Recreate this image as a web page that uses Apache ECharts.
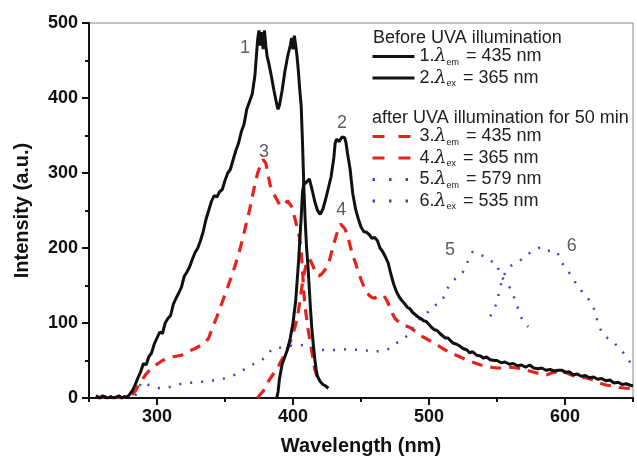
<!DOCTYPE html>
<html><head><meta charset="utf-8">
<script src="https://cdn.jsdelivr.net/npm/echarts@6/dist/echarts.min.js"></script>
<style>html,body{margin:0;padding:0;background:#fff}#c{width:637px;height:461px}</style>
</head><body><div id="c"></div>
<script>
// ---- axis ticks ----
const xTickValues = [300, 400, 500, 600];
const xMinorTickValues = [250, 350, 450, 550, 650];
const yTickValues = [0, 100, 200, 300, 400, 500];

// ---- series names and legend texts ----
const seriesNames = ['1', '2', '3', '4', '5', '6'];
const legendTexts = {
  '1': '1.{l|λ}{s|em}{t| = 435 nm}',
  '2': '2.{l|λ}{s|ex}{t| = 365 nm}',
  '3': '3.{l|λ}{s|em}{t| = 435 nm}',
  '4': '4.{l|λ}{s|ex}{t| = 365 nm}',
  '5': '5.{l|λ}{s|em}{t| = 579 nm}',
  '6': '6.{l|λ}{s|ex}{t| = 535 nm}'
};
const groupTitles = ['Before UVA illumination', 'after UVA illumination for 50 min'];

// ---- curve labels [wavelength, intensity, text] ----
const curveLabels = [[364.7, 467, '1'], [436, 366, '2'], [378.7, 328, '3'], [435.5, 251, '4'], [515.4, 197, '5'], [605, 203, '6']];

// ---- data: [wavelength nm, intensity a.u.] ----
const s1 = [[255,2],[258,0],[260,3],[262,1],[264,0],[266,2],[268,0],[270,1],[272,3],[274,0],[276,2],[278,1],[280,5],[282,10],[284,18],[286,27],[288,35],[290,46],[292,44],[294,55],[296,60],[298,72],[300,80],[302,88],[304,86],[306,100],[308,106],[310,110],[312,125],[314,133],[316,140],[318,148],[320,162],[322,168],[324,175],[326,185],[328,194],[330,200],[332,210],[334,222],[336,238],[338,250],[340,262],[342,270],[344,268],[346,275],[348,278],[350,290],[352,300],[354,305],[356,318],[358,330],[360,340],[362,355],[364,365],[366,385],[368,395],[370,405],[372,430],[374,478],[375,490],[376,470],[377,488],[378,465],[379,490],[380,470],[381,455],[382,448],[384,430],[386,410],[388,392],[389,385],[390,390],[392,410],[394,435],[396,455],[398,470],[399,480],[400,465],[401,483],[402,470],[403,455],[404,435],[405,410],[406,390],[407,340],[408,280],[409,235],[410,200],[411,176],[412,145],[413,115],[414,89],[415,70],[416,52],[417,38],[418,29],[420,22],[422,18],[424,16],[426,13]];
const s2 = [[388,0],[389,8],[390,25],[392,45],[394,55],[396,65],[398,80],[400,100],[402,130],[403,155],[404,180],[405,210],[406,240],[407,275],[408,285],[410,288],[412,292],[413,290],[414,278],[416,262],[418,250],[420,245],[422,252],[424,265],[426,280],[428,295],[430,320],[431,340],[432,345],[433,347],[434,342],[436,348],[438,347],[439,340],[440,327],[442,305],[443,288],[444,272],[446,252],[448,239],[450,228],[452,222],[454,221],[456,218],[458,213],[460,214],[462,210],[464,200],[466,195],[468,188],[470,180],[472,165],[474,152],[476,142],[478,135],[480,130],[482,126],[484,121],[486,119],[488,114],[490,111],[492,108],[494,106],[496,103],[498,102],[500,98],[502,94],[504,91],[506,90],[508,86],[510,83],[512,80],[514,80],[516,76],[518,73],[520,72],[522,70],[525,66],[528,64],[530,60],[532,62],[535,57],[538,56],[540,53],[542,55],[545,51],[548,50],[550,50],[553,47],[556,48],[559,45],[562,46],[565,43],[568,44],[571,41],[574,44],[577,40],[580,39],[583,40],[586,37],[589,38],[592,36],[595,37],[598,37],[600,34],[603,35],[606,31],[609,32],[612,29],[615,30],[618,27],[621,28],[624,25],[627,26],[630,23],[633,24],[636,20],[639,21],[642,18],[645,19],[648,17],[650,16]];
const s3 = [[255,3],[258,0],[262,2],[266,0],[270,1],[274,0],[278,2],[282,5],[284,9],[286,16],[289,24],[292,32],[296,40],[300,45],[304,50],[308,53],[312,55],[318,57],[323,62],[328,66],[332,70],[336,75],[338,80],[341,95],[344,108],[348,128],[352,148],[355,163],[358,180],[360,192],[363,212],[365,228],[368,250],[370,268],[372,285],[374,300],[376,310],[378,318],[379,320],[380,313],[382,295],[383,285],[385,275],[388,265],[390,258],[392,256],[394,258],[396,263],[397,261],[399,255],[401,242],[403,228],[405,212],[406,196],[407,170],[408,140],[409,120],[411,93],[413,70],[414,60],[416,38],[418,27],[420,22]];
const s4 = [[374,0],[376,5],[378,9],[381,20],[384,28],[387,36],[390,45],[393,55],[396,66],[399,80],[401,92],[403,105],[405,128],[406.5,148],[408,165],[410,180],[412,186],[413,185],[415,175],[417,165],[419,163],[421,165],[424,172],[426,178],[428,192],[430,205],[432,218],[434,228],[435,232],[436,231],[438,226],[440,218],[442,203],[444,190],[446,180],[448,168],[450,158],[452,149],[454,142],[456,137],[458,134],[460,133],[462,135],[465,137],[467,136],[469,130],[471,122],[473,113],[475,106],[478,101],[482,97],[486,94],[490,89],[493,84],[497,80],[501,76],[505,72],[510,66],[515,61],[520,57],[525,53],[530,49],[535,46],[538,44],[542,42],[546,41],[550,40],[555,40],[560,41],[565,40],[570,37],[574,36],[578,34],[582,32],[587,31],[591,34],[595,35],[599,36],[603,32],[607,29],[611,27],[615,27],[619,25],[623,22],[627,19],[631,17],[635,16],[640,14],[645,13],[650,12]];
const s5 = [[284,3],[286,12],[289,22],[293,18],[297,15],[302,13],[306,13],[312,16],[318,19],[323,20],[330,21],[340,23],[347,25],[352,27],[356,30],[360,33],[364,38],[367,42],[372,46],[377,50],[381,58],[385,66],[390,67],[395,69],[400,70],[405,71],[409,70],[414,67],[418,64],[425,64],[433,64],[440,65],[449,64],[455,63],[459,61],[464,63],[469,64],[473,68],[476,73],[480,78],[485,84],[488,93],[491,102],[496,110],[501,117],[505,124],[510,130],[512,142],[515,150],[518,157],[522,163],[525,168],[528,180],[532,195],[535,192],[539,190],[543,186],[547,181],[550,179],[552,165],[556,155],[560,146],[564,128],[567,110],[570,100],[573,95]];
const s6 = [[545,109],[547,115],[550,128],[552,145],[554,160],[557,170],[560,176],[565,181],[569,186],[572,190],[575,195],[578,198],[582,201],[585,199],[587,196],[590,197],[594,195],[597,185],[599,176],[602,170],[605,162],[609,150],[612,143],[616,137],[619,125],[622,117],[624,100],[628,84],[632,79],[635,76],[639,68],[643,60],[646,53],[649,44]];

const BLACK = '#111111', RED = '#e8231e', BLUE = '#4040d2';
const FONT = "'Liberation Sans', Arial, sans-serif";

const lineStyles = {
  '1': {color: BLACK, width: 3, type: 'solid'},
  '2': {color: BLACK, width: 3, type: 'solid'},
  '3': {color: RED, width: 3.2, type: [11, 8]},
  '4': {color: RED, width: 3.2, type: [11, 8]},
  '5': {color: BLUE, width: 2.5, type: [2, 9]},
  '6': {color: BLUE, width: 2.5, type: [2, 9]}
};
const legendLineStyles = {
  '1': {color: BLACK, width: 3, type: 'solid'},
  '2': {color: BLACK, width: 3, type: 'solid'},
  '3': {color: RED, width: 3, type: [12, 14]},
  '4': {color: RED, width: 3, type: [12, 14]},
  '5': {color: BLUE, width: 3, type: [2.5, 14]},
  '6': {color: BLUE, width: 3, type: [2.5, 14]}
};
const dataSets = {'1': s1, '2': s2, '3': s3, '4': s4, '5': s5, '6': s6};

const chart = echarts.init(document.getElementById('c'), null, {renderer: 'canvas'});

const richLegend = {
  l: {fontSize: 19, fontFamily: "'DejaVu Serif', serif", fontStyle: 'italic', color: '#222', lineHeight: 21, verticalAlign: 'middle'},
  s: {fontSize: 9, fontFamily: FONT, color: '#222', verticalAlign: 'bottom', lineHeight: 21, padding: [0, 2, 0, 0]},
  t: {fontSize: 18, fontFamily: FONT, color: '#222', lineHeight: 21}
};

function legendCfg(names, top) {
  return {
    orient: 'vertical', left: 371, top: top, padding: 0,
    itemWidth: 42, itemHeight: 14, itemGap: 1.5,
    selectedMode: false,
    data: names.map(n => ({name: n, lineStyle: legendLineStyles[n], itemStyle: {opacity: 0}})),
    formatter: n => legendTexts[n],
    textStyle: {fontSize: 18, fontFamily: FONT, color: '#222', rich: richLegend}
  };
}

const option = {
  animation: false,
  backgroundColor: '#fff',
  grid: {left: 89, right: 4, top: 23, bottom: 61, show: true, borderColor: '#888', borderWidth: 1, backgroundColor: 'transparent'},
  xAxis: [{
    type: 'value', min: 250, max: 650,
    name: 'Wavelength (nm)', nameLocation: 'middle', nameGap: 38,
    nameTextStyle: {fontSize: 20, fontWeight: 'bold', fontFamily: FONT, color: '#111'},
    axisLine: {show: true, lineStyle: {color: '#111', width: 2}},
    axisTick: {show: true, inside: false, length: 7, lineStyle: {color: '#111', width: 2}, customValues: xTickValues},
    axisLabel: {show: true, margin: 10, fontSize: 18, fontWeight: 'bold', fontFamily: FONT, color: '#111', customValues: xTickValues},
    splitLine: {show: false}
  }, {
    type: 'value', min: 250, max: 650, position: 'bottom',
    axisLine: {show: false},
    axisTick: {show: true, length: 4, lineStyle: {color: '#111', width: 2}, customValues: xMinorTickValues},
    axisLabel: {show: false},
    splitLine: {show: false}
  }],
  yAxis: {
    type: 'value', min: 0, max: 500, interval: 100,
    name: 'Intensity (a.u.)', nameLocation: 'middle', nameGap: 57,
    nameTextStyle: {fontSize: 20, fontWeight: 'bold', fontFamily: FONT, color: '#111'},
    axisLine: {show: true, lineStyle: {color: '#111', width: 2}},
    axisTick: {show: true, length: 7, lineStyle: {color: '#111', width: 2}},
    minorTick: {show: true, splitNumber: 2, length: 4, lineStyle: {color: '#111', width: 2}},
    axisLabel: {margin: 11, fontSize: 18, fontWeight: 'bold', fontFamily: FONT, color: '#111'},
    splitLine: {show: false}
  },
  legend: [legendCfg(['1', '2'], 47), legendCfg(['3', '4', '5', '6'], 127)],
  graphic: [
    {type: 'text', left: 373, top: 29, style: {text: groupTitles[0], font: "18px 'Liberation Sans', Arial, sans-serif", fill: '#222'}},
    {type: 'text', left: 372, top: 109, style: {text: groupTitles[1], font: "18px 'Liberation Sans', Arial, sans-serif", fill: '#222'}}
  ],
  series: seriesNames.map(n => ({
    name: n, type: 'line', data: dataSets[n], xAxisIndex: 0,
    symbol: 'none', smooth: false, lineStyle: lineStyles[n], itemStyle: {color: lineStyles[n].color},
    z: n === '1' || n === '2' ? 3 : 2
  })).concat([{
    name: 'curve labels', type: 'scatter', data: curveLabels, symbolSize: 1,
    itemStyle: {color: 'transparent'},
    label: {show: true, position: 'inside', formatter: p => p.value[2], fontSize: 18, fontFamily: FONT, color: '#333'},
    z: 5
  }])
};
chart.setOption(option);
</script>
</body></html>
